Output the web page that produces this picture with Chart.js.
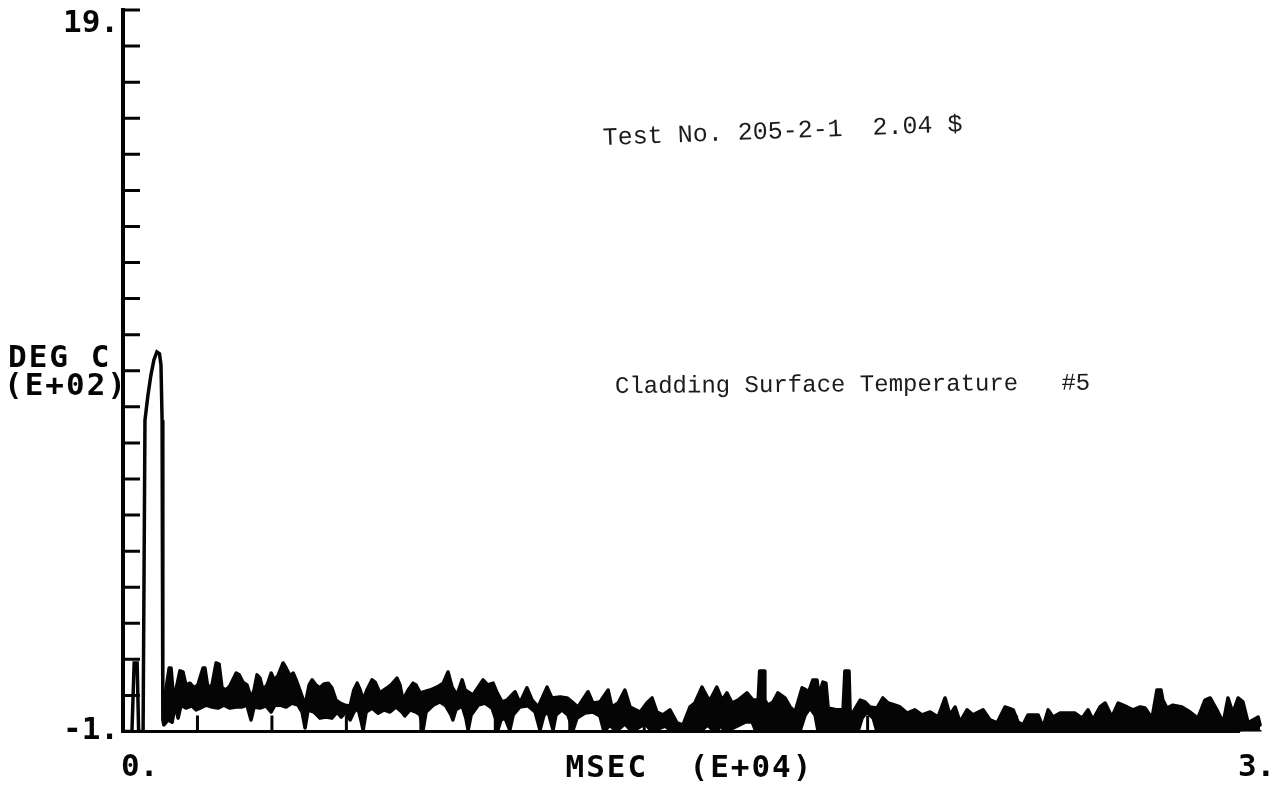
<!DOCTYPE html>
<html>
<head>
<meta charset="utf-8">
<title>Cladding Surface Temperature #5</title>
<script src="https://cdn.jsdelivr.net/npm/chart.js@4/dist/chart.umd.min.js"></script>
<style>
  html, body { margin: 0; padding: 0; background: #ffffff; }
  #wrap { width: 1284px; height: 786px; }
  canvas { display: block; }
</style>
</head>
<body>
<div id="wrap"><canvas id="plot" width="1284" height="786"></canvas></div>
<script>
// Test No. 205-2-1 (2.04 $), cladding surface thermocouple #5.
// Time in units of E+04 msec, temperature in units of E+02 deg C.

// Start of the record: a small blip, then the main excursion
const pulseTime = [0, 0.024, 0.030, 0.038, 0.042, 0.048, 0.054, 0.059, 0.067, 0.075, 0.083,
  0.091, 0.098, 0.102, 0.105, 0.107, 0.110];
const pulseTemp = [-1, -1, 0.90, 0.90, -1, -1, -1, 7.63, 8.32, 8.88, 9.30,
  9.52, 9.47, 9.16, 7.63, -0.68, -0.82];

// Remainder of the record: upper edge of the noisy trace
const upperTime = [
  0.110, 0.115, 0.124, 0.129, 0.134, 0.142, 0.153, 0.161, 0.169, 0.180, 0.191, 0.201, 0.215, 0.220,
  0.228, 0.239, 0.250, 0.258, 0.266, 0.277, 0.287, 0.304, 0.312, 0.322, 0.333, 0.344, 0.352, 0.360,
  0.368, 0.376, 0.387, 0.398, 0.406, 0.416, 0.430, 0.438, 0.449, 0.457, 0.465, 0.475, 0.489, 0.500,
  0.508, 0.518, 0.529, 0.540, 0.551, 0.561, 0.572, 0.583, 0.596, 0.610, 0.620, 0.629, 0.637, 0.645,
  0.655, 0.669, 0.677, 0.690, 0.701, 0.709, 0.720, 0.736, 0.744, 0.752, 0.766, 0.779, 0.787, 0.798,
  0.825, 0.843, 0.860, 0.873, 0.884, 0.897, 0.911, 0.919, 0.940, 0.954, 0.967, 0.980, 0.994, 1.005,
  1.018, 1.031, 1.053, 1.066, 1.085, 1.099, 1.115, 1.139, 1.152, 1.174, 1.193, 1.206, 1.222, 1.249,
  1.262, 1.281, 1.303, 1.313, 1.330, 1.348, 1.362, 1.389, 1.407, 1.421, 1.434, 1.450, 1.469, 1.488,
  1.504, 1.523, 1.536, 1.555, 1.569, 1.577, 1.595, 1.609, 1.622, 1.636, 1.652, 1.676, 1.692, 1.706,
  1.710, 1.722, 1.724, 1.732, 1.746, 1.759, 1.778, 1.792, 1.805, 1.824, 1.835, 1.840, 1.853, 1.864,
  1.869, 1.880, 1.888, 1.894, 1.918, 1.934, 1.939, 1.950, 1.953, 1.961, 1.980, 1.993, 2.006, 2.025,
  2.041, 2.055, 2.074, 2.087, 2.106, 2.127, 2.146, 2.168, 2.189, 2.208, 2.221, 2.235, 2.248, 2.267,
  2.283, 2.310, 2.329, 2.348, 2.369, 2.391, 2.404, 2.417, 2.431, 2.458, 2.471, 2.485, 2.498, 2.517,
  2.536, 2.557, 2.576, 2.592, 2.605, 2.624, 2.638, 2.656, 2.673, 2.697, 2.713, 2.732, 2.745, 2.764,
  2.777, 2.788, 2.793, 2.804, 2.820, 2.844, 2.866, 2.887, 2.906, 2.920, 2.938, 2.955, 2.968, 2.981,
  2.995, 3.008, 3.022, 3.035, 3.049, 3.054];
const upperTemp = [
  -0.13, 0.15, 0.76, 0.76, 0.15, 0.15, 0.68, 0.65, 0.29, 0.34, 0.21, 0.29, 0.76, 0.76,
  0.21, 0.29, 0.90, 0.87, 0.21, 0.15, 0.26, 0.62, 0.57, 0.37, 0.29, -0.07, 0.15, 0.57,
  0.48, 0.15, 0.29, 0.62, 0.43, 0.54, 0.90, 0.76, 0.54, 0.62, 0.43, 0.15, -0.27, 0.29,
  0.43, 0.29, 0.21, 0.32, 0.34, 0.21, -0.13, -0.21, -0.27, -0.29, 0.15, 0.34, 0.15, -0.13,
  0.15, 0.43, 0.37, 0.07, 0.15, 0.21, 0.29, 0.48, 0.29, -0.13, 0.15, 0.34, 0.29, 0.07,
  0.15, 0.23, 0.34, 0.65, 0.23, 0.01, 0.43, 0.15, 0.01, 0.23, 0.43, 0.29, 0.34, 0.07,
  -0.18, -0.13, 0.10, -0.21, 0.21, -0.13, -0.32, 0.23, -0.07, -0.04, -0.07, -0.18, -0.32, 0.10,
  -0.21, -0.18, 0.15, -0.32, -0.21, 0.15, -0.32, -0.46, -0.21, -0.07, -0.46, -0.54, -0.40, -0.76,
  -0.82, -0.32, -0.21, 0.23, -0.04, -0.13, 0.23, -0.13, 0.07, -0.21, -0.13, 0.07, -0.13, -0.13,
  0.68, 0.68, -0.13, -0.27, -0.18, 0.07, -0.07, -0.32, -0.46, 0.21, 0.15, 0.05, 0.43, 0.43,
  0.01, 0.37, 0.34, -0.35, -0.40, -0.40, 0.68, 0.68, -0.46, -0.46, -0.13, -0.18, -0.32, -0.35,
  -0.07, -0.21, -0.27, -0.32, -0.49, -0.40, -0.54, -0.46, -0.60, -0.07, -0.54, -0.32, -0.74, -0.40,
  -0.54, -0.40, -0.68, -0.76, -0.32, -0.40, -0.74, -0.82, -0.54, -0.54, -0.88, -0.40, -0.60, -0.49,
  -0.49, -0.49, -0.63, -0.40, -0.68, -0.32, -0.21, -0.60, -0.21, -0.32, -0.40, -0.32, -0.35, -0.63,
  0.15, 0.15, -0.13, -0.35, -0.27, -0.32, -0.46, -0.63, -0.13, -0.07, -0.40, -0.76, -0.07, -0.49,
  -0.07, -0.18, -0.76, -0.68, -0.60, -0.82];

// Remainder of the record: lower edge of the noisy trace
const lowerTime = [
  0.110, 0.121, 0.132, 0.140, 0.148, 0.156, 0.169, 0.185, 0.196, 0.207, 0.223, 0.239, 0.255, 0.271,
  0.287, 0.304, 0.320, 0.333, 0.344, 0.352, 0.368, 0.384, 0.398, 0.408, 0.422, 0.438, 0.454, 0.470,
  0.481, 0.489, 0.497, 0.513, 0.529, 0.545, 0.561, 0.575, 0.586, 0.599, 0.610, 0.620, 0.631, 0.639,
  0.645, 0.653, 0.669, 0.685, 0.701, 0.717, 0.733, 0.749, 0.757, 0.771, 0.787, 0.798, 0.806, 0.814,
  0.833, 0.851, 0.867, 0.881, 0.886, 0.894, 0.911, 0.921, 0.927, 0.935, 0.954, 0.972, 0.991, 1.002,
  1.007, 1.015, 1.026, 1.039, 1.048, 1.066, 1.088, 1.107, 1.120, 1.131, 1.142, 1.155, 1.163, 1.179,
  1.195, 1.209, 1.219, 1.241, 1.262, 1.281, 1.292, 1.308, 1.324, 1.348, 1.367, 1.402, 1.421, 1.456,
  1.475, 1.550, 1.571, 1.587, 1.604, 1.620, 1.671, 1.690, 1.700, 1.818, 1.832, 1.845, 1.859, 1.867,
  1.974, 1.985, 1.998, 2.015, 2.025, 3.054];
const lowerTemp = [
  -0.82, -0.68, -0.74, -0.27, -0.63, -0.27, -0.35, -0.29, -0.40, -0.35, -0.27, -0.32, -0.35, -0.27,
  -0.35, -0.32, -0.32, -0.27, -0.68, -0.32, -0.35, -0.29, -0.46, -0.27, -0.27, -0.32, -0.21, -0.27,
  -0.46, -0.90, -0.40, -0.46, -0.63, -0.60, -0.63, -0.46, -0.60, -0.46, -0.68, -0.46, -0.35, -0.68,
  -0.96, -0.46, -0.35, -0.49, -0.40, -0.46, -0.32, -0.46, -0.57, -0.40, -0.46, -0.54, -0.96, -0.46,
  -0.27, -0.18, -0.29, -0.54, -0.68, -0.40, -0.29, -0.63, -0.96, -0.54, -0.27, -0.21, -0.35, -0.68,
  -0.96, -0.68, -0.63, -0.96, -0.54, -0.32, -0.29, -0.46, -0.96, -0.54, -0.46, -0.96, -0.54, -0.40,
  -0.54, -0.96, -0.63, -0.49, -0.46, -0.57, -1, -0.82, -1, -0.79, -1, -0.79, -1, -0.85,
  -1, -1, -0.82, -1, -0.85, -1, -0.74, -0.74, -1, -1, -0.55, -0.35, -0.55, -1,
  -1, -0.63, -0.46, -0.63, -1, -1];

// Axis ranges and tick layout
const X_MIN = 0, X_MAX = 3.07, X_AXIS_END = 3.0, X_TICK_STEP = 0.2;
const Y_MIN = -1, Y_MAX = 19, Y_TICK_STEP = 1;
const xLabelValues = [0, 3];
const xLabelTexts = ['0.', '3.'];
const yLabelValues = [19, -1];
const yLabelTexts = ['19.', '-1.'];
const xTitle = 'MSEC  (E+04)';
const yTitle = ['DEG C', '(E+02)'];
const notes = ['Test No. 205-2-1  2.04 $', 'Cladding Surface Temperature   #5'];

const INK = '#050505';
const PLOT_FONT = '"DejaVu Sans Mono", monospace';
const TYPE_FONT = '"Liberation Mono", "Courier New", monospace';

const toPoints = (xs, ys) => xs.map((x, i) => ({ x: x, y: ys[i] }));

const whiteBackground = {
  id: 'whiteBackground',
  beforeDraw(chart) {
    const ctx = chart.ctx;
    ctx.save();
    ctx.fillStyle = '#ffffff';
    ctx.fillRect(0, 0, chart.width, chart.height);
    ctx.restore();
  }
};

// Plotter-style axes: inward ticks, sparse end labels, block lettering
const plotterAxes = {
  id: 'plotterAxes',
  afterDatasetsDraw(chart) {
    const ctx = chart.ctx;
    const xs = chart.scales.x, ys = chart.scales.y;
    const x0 = xs.getPixelForValue(X_MIN);
    const xEnd = xs.getPixelForValue(X_AXIS_END);
    const yBot = ys.getPixelForValue(Y_MIN);
    const yTop = ys.getPixelForValue(Y_MAX);

    ctx.save();
    ctx.strokeStyle = INK;
    ctx.fillStyle = INK;
    ctx.lineCap = 'butt';

    ctx.lineWidth = 4;
    ctx.beginPath();
    ctx.moveTo(x0, yTop - 2);
    ctx.lineTo(x0, yBot + 1.5);
    ctx.stroke();

    ctx.lineWidth = 3;
    ctx.beginPath();
    for (let v = Y_MIN + Y_TICK_STEP; v <= Y_MAX + 1e-9; v += Y_TICK_STEP) {
      const y = ys.getPixelForValue(v);
      ctx.moveTo(x0, y);
      ctx.lineTo(x0 + 17, y);
    }
    ctx.stroke();

    ctx.lineWidth = 3;
    ctx.beginPath();
    ctx.moveTo(x0 - 2, yBot);
    ctx.lineTo(xEnd, yBot);
    const nx = Math.round((X_AXIS_END - X_MIN) / X_TICK_STEP);
    for (let i = 1; i <= nx; i++) {
      const x = xs.getPixelForValue(X_MIN + i * X_TICK_STEP);
      ctx.moveTo(x, yBot);
      ctx.lineTo(x, yBot - 16);
    }
    ctx.stroke();

    ctx.font = 'bold 31px ' + PLOT_FONT;
    ctx.textBaseline = 'alphabetic';
    ctx.textAlign = 'right';
    yLabelValues.forEach((v, i) => {
      const y = ys.getPixelForValue(v);
      const dy = v === Y_MAX ? 22 : 7;
      ctx.fillText(yLabelTexts[i], x0 - 4, y + dy);
    });

    ctx.textAlign = 'left';
    xLabelValues.forEach((v, i) => {
      ctx.fillText(xLabelTexts[i], xs.getPixelForValue(v) - 2, yBot + 44);
    });

    ctx.letterSpacing = '2px';
    ctx.textAlign = 'center';
    ctx.fillText(xTitle, xs.getPixelForValue((X_MIN + X_AXIS_END) / 2) + 8, yBot + 45);

    ctx.textAlign = 'left';
    ctx.fillText(yTitle[0], 8, 367);
    ctx.fillText(yTitle[1], 4, 395);
    ctx.restore();
  }
};

// Typed annotations on the plot
const typedNotes = {
  id: 'typedNotes',
  afterDraw(chart) {
    const ctx = chart.ctx;
    ctx.save();
    ctx.fillStyle = '#1c1c1c';
    ctx.textBaseline = 'alphabetic';
    ctx.textAlign = 'left';

    ctx.save();
    ctx.translate(603, 145);
    ctx.rotate(-0.038);
    ctx.font = '25px ' + TYPE_FONT;
    ctx.fillText(notes[0], 0, 0);
    ctx.restore();

    ctx.save();
    ctx.translate(615, 393);
    ctx.rotate(-0.007);
    ctx.font = '24px ' + TYPE_FONT;
    ctx.fillText(notes[1], 0, 0);
    ctx.restore();

    ctx.restore();
  }
};

new Chart(document.getElementById('plot'), {
  type: 'line',
  data: {
    datasets: [
      {
        label: 'excursion',
        data: toPoints(pulseTime, pulseTemp),
        borderColor: INK,
        borderWidth: 3.5,
        pointRadius: 0,
        tension: 0,
        fill: false
      },
      {
        label: 'trace upper',
        data: toPoints(upperTime, upperTemp),
        borderColor: INK,
        backgroundColor: INK,
        borderWidth: 3.5,
        borderJoinStyle: 'round',
        borderCapStyle: 'round',
        pointRadius: 0,
        tension: 0,
        fill: '+1'
      },
      {
        label: 'trace lower',
        data: toPoints(lowerTime, lowerTemp),
        borderColor: INK,
        borderWidth: 3.5,
        borderJoinStyle: 'round',
        borderCapStyle: 'round',
        pointRadius: 0,
        tension: 0,
        fill: false
      }
    ]
  },
  options: {
    responsive: false,
    animation: false,
    events: [],
    layout: { padding: { left: 123, right: 18, top: 10, bottom: 54.5 } },
    scales: {
      x: { type: 'linear', min: X_MIN, max: X_MAX, display: false },
      y: { type: 'linear', min: Y_MIN, max: Y_MAX, display: false }
    },
    plugins: {
      legend: { display: false },
      tooltip: { enabled: false },
      title: { display: false }
    }
  },
  plugins: [whiteBackground, plotterAxes, typedNotes]
});
</script>
</body>
</html>
